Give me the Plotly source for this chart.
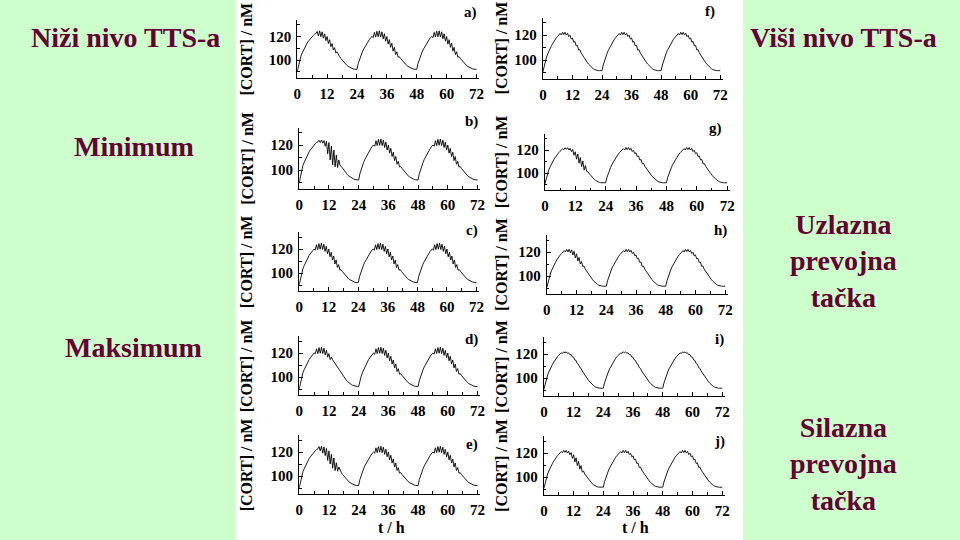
import plotly.graph_objects as go

# ---------------- data ----------------
# time grid in hours (half-hour sampling over 72 h)
HOURS = [i * 0.5 for i in range(145)]

X_TICKS = [0, 12, 24, 36, 48, 60, 72]
X_MINOR = [6, 18, 30, 42, 54, 66]
Y_TICKS = [100, 120]
Y_MINOR = [90, 110, 130]

# left column (lower TTS level) - pieces of one day (48 half-hour samples)
L_RISE_D1 = [90, 95, 100.5, 103.5, 106, 108.5, 110.5, 112.5, 114.5, 116, 117.5, 119, 120]
L_RISE = [92, 97, 100.5, 103.5, 106, 108.5, 110.5, 112.5, 114.5, 116, 117.5, 119, 120]
L_TAIL = [102.8, 101.3, 99.9, 98.6, 97.4, 96.3, 95.3, 94.5, 93.8, 93.2, 92.8, 92.4, 92.2, 92]
L_MID_SPIKY = [119, 123.5, 119.5, 124.5, 119.8, 124.8, 119.5, 124, 118, 122.3, 116, 120,
               113.5, 117.3, 110.8, 114.2, 107.5, 110.8, 104.6, 107, 102.4]
L_MID_A = [121, 122, 122.5, 124.3, 120.5, 124.8, 119.8, 124, 118.5, 122.3, 116.5, 120,
           114, 117.3, 111.3, 114, 108.5, 110.5, 106, 107, 104.4]
L_MID_B = [121, 122, 122.5, 123.8, 122, 124, 121.5, 123.5, 119, 123, 113, 122,
           108, 119, 104, 116, 102.5, 112, 102, 108, 103.5]
L_MID_D = [119.5, 123.5, 119.5, 124.5, 119.8, 124.8, 119.5, 124, 118.5, 122.3, 116.5, 119.5,
           114.5, 116.5, 114.3, 112.7, 111, 109.3, 107.6, 106, 104.4]
L_MID_E = [121, 122, 122.5, 124.5, 121, 124.8, 119, 124.3, 117, 123, 113, 121,
           110, 118, 106.5, 115, 104.5, 111, 104, 107.5, 104.4]

# right column (higher TTS level)
R_RISE_D1 = [90.5, 95, 99.5, 102.5, 105, 107.5, 109.5, 111.5, 113.3, 115, 116.5, 117.8, 118.9]
R_RISE = [91.5, 96, 99.5, 102.5, 105, 107.5, 109.5, 111.5, 113.3, 115, 116.5, 117.8, 118.9]
R_TAIL = [101, 99.5, 98.1, 96.8, 95.6, 94.5, 93.6, 92.9, 92.3, 91.9, 91.6, 91.5, 91.5, 91.5]
R_MID_SMALL = [119.8, 121.2, 120, 122.2, 120.3, 122.2, 120, 121.4, 118.7, 119.8, 116.8, 117.6,
               114.3, 114.8, 111.3, 111.7, 108, 108.3, 105.8, 104.1, 102.5]
R_MID_G = [119.8, 121, 120.2, 122, 120.5, 122, 120, 121.5, 118.5, 120.5, 115.5, 118.5,
           112, 116.5, 108.5, 113.5, 105.5, 110.5, 102.5, 106.5, 101.5]
R_MID_H = [119.8, 121.2, 120, 122.2, 120, 122.3, 119.3, 121.8, 117.5, 120.5, 115, 118.5,
           112.5, 115.5, 110, 112, 108, 108.3, 105.8, 104.1, 102.5]
R_MID_J = [119.8, 121.2, 120.2, 122.2, 120.5, 122.2, 120, 121.5, 118.5, 120.3, 115.5, 118.5,
           112.5, 116, 109.5, 113, 106.5, 109.5, 104, 105, 102.5]
R_MID_TINY = [119.8, 120.9, 120.5, 121.8, 121, 121.8, 120.6, 121, 119.4, 119.5, 117.5, 117.3,
              115, 114.5, 112, 111.4, 108.7, 108, 105.8, 104.1, 102.5]

L_END = [92]
R_END = [91.5]

CORT_A = (L_RISE_D1 + L_MID_A + L_TAIL + L_RISE + L_MID_SPIKY + L_TAIL
          + L_RISE + L_MID_SPIKY + L_TAIL + L_END)
CORT_B = (L_RISE_D1 + L_MID_B + L_TAIL + L_RISE + L_MID_SPIKY + L_TAIL
          + L_RISE + L_MID_SPIKY + L_TAIL + L_END)
CORT_C = (L_RISE_D1 + L_MID_SPIKY + L_TAIL + L_RISE + L_MID_SPIKY + L_TAIL
          + L_RISE + L_MID_SPIKY + L_TAIL + L_END)
CORT_D = (L_RISE_D1 + L_MID_D + L_TAIL + L_RISE + L_MID_SPIKY + L_TAIL
          + L_RISE + L_MID_SPIKY + L_TAIL + L_END)
CORT_E = (L_RISE_D1 + L_MID_E + L_TAIL + L_RISE + L_MID_SPIKY + L_TAIL
          + L_RISE + L_MID_SPIKY + L_TAIL + L_END)
CORT_F = (R_RISE_D1 + R_MID_SMALL + R_TAIL + R_RISE + R_MID_SMALL + R_TAIL
          + R_RISE + R_MID_SMALL + R_TAIL + R_END)
CORT_G = (R_RISE_D1 + R_MID_G + R_TAIL + R_RISE + R_MID_SMALL + R_TAIL
          + R_RISE + R_MID_SMALL + R_TAIL + R_END)
CORT_H = (R_RISE_D1 + R_MID_H + R_TAIL + R_RISE + R_MID_SMALL + R_TAIL
          + R_RISE + R_MID_SMALL + R_TAIL + R_END)
CORT_I = (R_RISE_D1 + R_MID_TINY + R_TAIL + R_RISE + R_MID_TINY + R_TAIL
          + R_RISE + R_MID_TINY + R_TAIL + R_END)
CORT_J = (R_RISE_D1 + R_MID_J + R_TAIL + R_RISE + R_MID_SMALL + R_TAIL
          + R_RISE + R_MID_SMALL + R_TAIL + R_END)

PANEL_LABELS = ["a)", "b)", "c)", "d)", "e)", "f)", "g)", "h)", "i)", "j)"]
PANEL_SERIES = [CORT_A, CORT_B, CORT_C, CORT_D, CORT_E, CORT_F, CORT_G, CORT_H, CORT_I, CORT_J]
Y_TITLE = "[CORT] / nM"
X_TITLE = "t / h"

# ---------------- layout (pixel geometry) ----------------
W, H = 960, 540
# (x of t=0, x of t=72, y of 120, y of 100, label x, label y)
GEOM = [
    (296, 477, 36.5, 60, 471, 12),
    (298, 478, 145, 170, 472, 122),
    (298, 477, 249, 273, 472, 230),
    (298, 478, 353, 377, 472, 339),
    (298, 478, 452, 476, 472, 444),
    (544, 723, 35, 60, 713, 11),
    (546, 730, 150, 173, 718, 128),
    (548, 728, 252, 276, 723, 230),
    (545, 725, 354, 378, 722, 339),
    (545, 725, 453, 477, 722, 441),
]
Y_RANGE = [85, 134]
X_RANGE = [0, 73]

SERIF = "Liberation Serif"
TICKFONT = dict(family=SERIF, size=15, color="black", weight="bold")
TXT = "#660033"

fig = go.Figure()
annotations = []

for k, (series, lab, g) in enumerate(zip(PANEL_SERIES, PANEL_LABELS, GEOM)):
    n = k + 1
    x0, x72, y120, y100, lx, ly = g
    xs = "" if n == 1 else str(n)
    fig.add_trace(go.Scatter(
        x=HOURS, y=series, mode="lines",
        line=dict(color="black", width=0.9),
        xaxis="x" + xs, yaxis="y" + xs,
        showlegend=False, hoverinfo="skip",
    ))
    pxh = (x72 - x0) / 72.0
    xd = [x0 / W, (x0 + pxh * X_RANGE[1]) / W]
    ppu = (y100 - y120) / 20.0
    bot = y100 + (100 - Y_RANGE[0]) * ppu
    top = y120 - (Y_RANGE[1] - 120) * ppu
    yd = [1 - bot / H, 1 - top / H]
    fig.update_layout(**{
        "xaxis" + xs: dict(
            domain=xd, range=X_RANGE, anchor="y" + xs,
            tickmode="array", tickvals=X_TICKS, ticktext=[str(v) for v in X_TICKS],
            ticks="inside", ticklen=4, tickwidth=1, tickcolor="black",
            minor=dict(tickvals=X_MINOR, ticks="inside", ticklen=2.5, tickwidth=1, tickcolor="black"),
            showline=True, linecolor="black", linewidth=1.2,
            showgrid=False, zeroline=False, tickfont=TICKFONT, ticklabelstandoff=2,
            fixedrange=True,
        ),
        "yaxis" + xs: dict(
            domain=yd, range=Y_RANGE, anchor="x" + xs,
            tickmode="array", tickvals=Y_TICKS, ticktext=[str(v) for v in Y_TICKS],
            ticks="inside", ticklen=4, tickwidth=1, tickcolor="black",
            minor=dict(tickvals=Y_MINOR, ticks="inside", ticklen=2.5, tickwidth=1, tickcolor="black"),
            showline=True, linecolor="black", linewidth=1.2,
            showgrid=False, zeroline=False, tickfont=TICKFONT, ticklabelstandoff=2,
            fixedrange=True,
        ),
    })
    # panel letter
    annotations.append(dict(x=lx / W, y=1 - ly / H, xref="paper", yref="paper",
                            text=lab, showarrow=False, xanchor="center", yanchor="middle",
                            font=dict(family=SERIF, size=15, color="black", weight="bold")))
    # y title
    tx = 245 if n <= 5 else 502
    annotations.append(dict(x=tx / W, y=1 - (top + bot) / 2 / H, xref="paper", yref="paper",
                            text=Y_TITLE, textangle=-90, showarrow=False,
                            xanchor="center", yanchor="middle",
                            font=dict(family=SERIF, size=16, color="black", weight="bold")))

# x titles
for cx in (391, 637):
    annotations.append(dict(x=cx / W, y=1 - 527 / H, xref="paper", yref="paper",
                            text=X_TITLE, showarrow=False, xanchor="center", yanchor="middle",
                            font=dict(family=SERIF, size=16, color="black", weight="bold")))

# side labels
SIDE_TEXT = [
    ("Niži nivo TTS-a", 123, 37),
    ("Minimum", 131, 147),
    ("Maksimum", 131, 347),
    ("Viši nivo TTS-a", 847, 37),
    ("Uzlazna<br>prevojna<br>tačka", 847, 261),
    ("Silazna<br>prevojna<br>tačka", 847, 464),
]
for t, cx, cy in SIDE_TEXT:
    annotations.append(dict(x=cx / W, y=1 - cy / H, xref="paper", yref="paper",
                            text=t, showarrow=False, xanchor="center", yanchor="middle",
                            font=dict(family=SERIF, size=28, color=TXT, weight="bold")))

fig.update_layout(
    width=W, height=H,
    margin=dict(l=0, r=0, t=0, b=0),
    paper_bgcolor="#CCFFCC",
    plot_bgcolor="rgba(0,0,0,0)",
    annotations=annotations,
    shapes=[dict(type="rect", xref="paper", yref="paper",
                 x0=234 / W, x1=746 / W, y0=0, y1=1,
                 fillcolor="white", line=dict(width=0), layer="below")],
)

fig.write_html(
    "out.html",
    config={"displayModeBar": False},
    post_script="document.body.style.margin='0';document.body.style.overflow='hidden';",
)
